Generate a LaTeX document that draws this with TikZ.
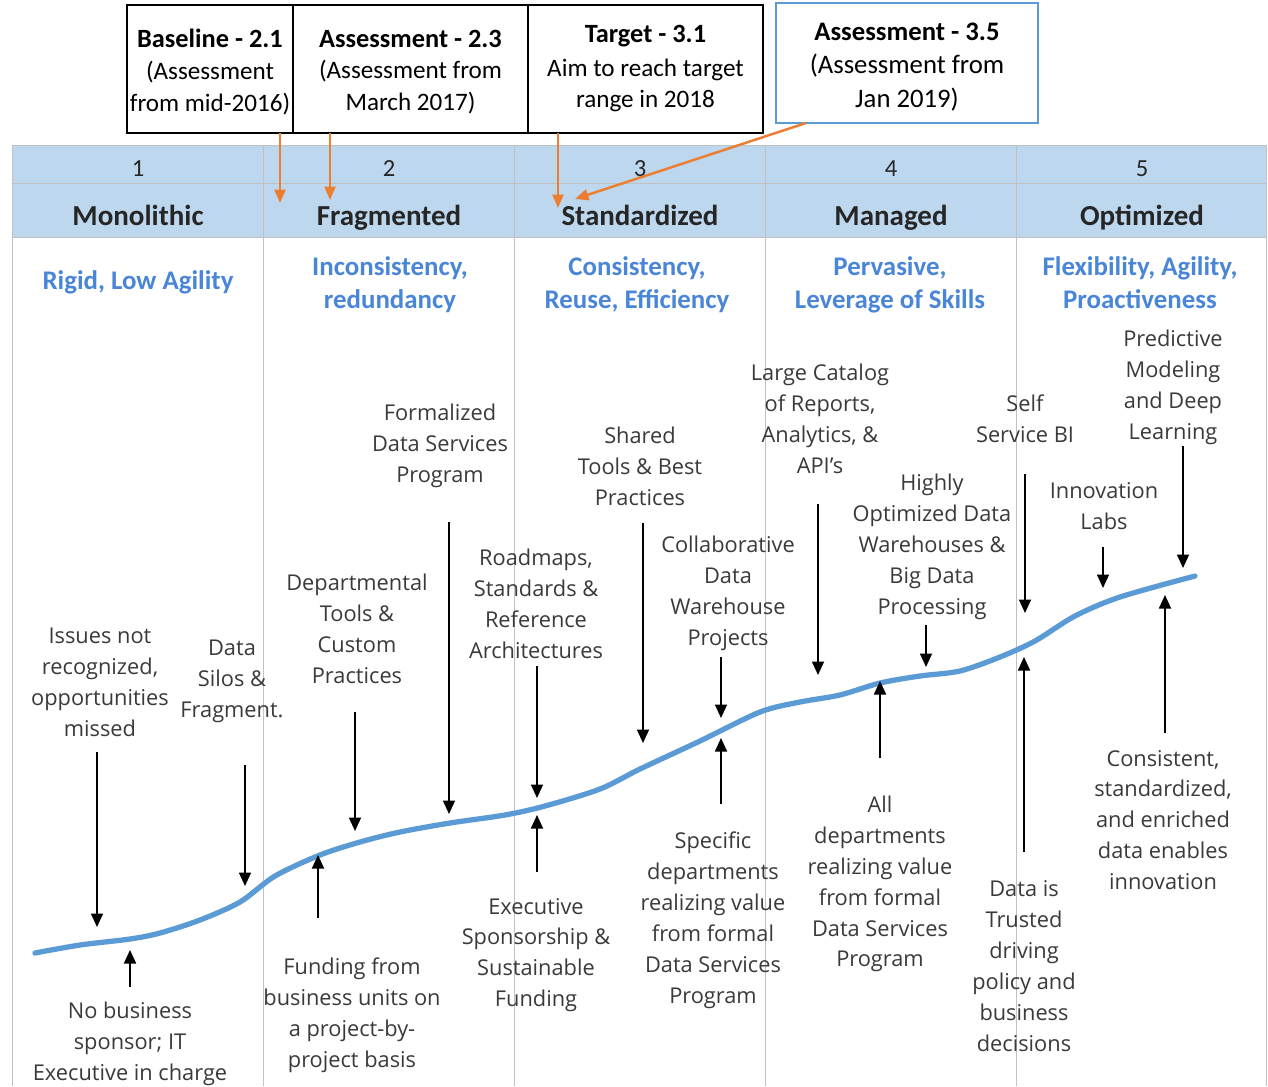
\documentclass[tikz,border=0pt]{standalone}
\usepackage{fontspec}
\setmainfont{Open Sans}
\newfontfamily\calfont{Carlito}
\usetikzlibrary{arrows.meta}
\definecolor{hdr}{HTML}{BDD7EE}
\definecolor{gridc}{HTML}{A6A6A6}
\definecolor{bluetxt}{HTML}{4A86D8}
\definecolor{curvec}{HTML}{5B9BD5}
\definecolor{orng}{HTML}{ED7D31}
\definecolor{lbltxt}{HTML}{3A3A3A}
\begin{document}
\begin{tikzpicture}[x=0.02cm,y=-0.02cm,
  lbl/.style={font=\fontsize{12.4}{17.6}\selectfont, text=lbltxt, align=center, inner sep=0pt},
  head/.style={font=\calfont\bfseries\fontsize{15.3}{18.7}\selectfont, text=bluetxt, align=center, inner sep=0pt},
  colname/.style={font=\calfont\bfseries\fontsize{16.5}{20}\selectfont, text=black!85, inner sep=0pt, anchor=base},
  colnum/.style={font=\calfont\fontsize{14}{18}\selectfont, text=black!85, inner sep=0pt, anchor=base},
  topbox/.style={draw=black, line width=1.4pt, fill=white, minimum height=128*0.02cm, inner sep=0pt},
  toptxt/.style={inner sep=0pt, align=center, font=\calfont\fontsize{14.3}{18}\selectfont},
  bluebox/.style={draw=curvec, line width=1.4pt, fill=white, minimum height=120*0.02cm, minimum width=262*0.02cm, inner sep=0pt},
  bluetxtnode/.style={inner sep=0pt, align=center, font=\calfont\fontsize{15.2}{19.2}\selectfont},
  blk/.style={draw=black, line width=1pt, -{Triangle[length=0.27cm,width=0.24cm]}},
  org/.style={draw=orng, line width=1.4pt, -{Triangle[length=0.27cm,width=0.22cm]}},
  gridl/.style={draw=gridc!70, line width=0.5pt}
]
\useasboundingbox (0,0) rectangle (1268,1086);
\fill[white] (0,0) rectangle (1268,1086);

% table header
\fill[hdr] (12,145) rectangle (1266,237);
\foreach \xx in {12,263,514,765,1016,1266} \draw[gridl] (\xx,145) -- (\xx,1086);
\foreach \yy in {145,183,237} \draw[gridl] (12,\yy) -- (1266,\yy);

\node[colnum] (n1) at (138,176) {1};
\node[colnum] (n2) at (389,176) {2};
\node[colnum] (n3) at (640,176) {3};
\node[colnum] (n4) at (891,176) {4};
\node[colnum] (n5) at (1142,176) {5};
\node[colname] (c1) at (138,225) {Monolithic};
\node[colname] (c2) at (389,225) {Fragmented};
\node[colname] (c3) at (640,225) {Standardized};
\node[colname] (c4) at (891,225) {Managed};
\node[colname] (c5) at (1142,225) {Optimized};

% top boxes
\node[topbox, minimum width=166*0.02cm] (b1) at (210,69) {};
\node[topbox, minimum width=235*0.02cm] (b2) at (410.5,69) {};
\node[topbox, minimum width=235*0.02cm] (b3) at (645.5,69) {};
\node[toptxt] (b1t) at (210,72) {\textbf{\fontsize{15}{18}\selectfont Baseline - 2.1}\\(Assessment\\from mid-2016)};
\node[toptxt] (b2t) at (410.5,72) {\textbf{\fontsize{15}{18}\selectfont Assessment - 2.3}\\(Assessment from\\March 2017)};
\node[toptxt] (b3t) at (645.5,69) {\textbf{\fontsize{15}{18}\selectfont Target - 3.1}\\[1pt]Aim to reach target\\range in 2018};
\node[bluebox] (b4) at (907,63) {};
\node[bluetxtnode] (b4t) at (907,67) {\textbf{Assessment - 3.5}\\(Assessment from\\Jan 2019)};

% orange arrows
\coordinate (o1s) at (280,133); \coordinate (o1e) at (280,203);
\coordinate (o2s) at (330,133); \coordinate (o2e) at (330,200);
\coordinate (o3s) at (558,133); \coordinate (o3e) at (558,208);
\coordinate (o4s) at (806,123); \coordinate (o4e) at (575,199);
\draw[org] (o1s) -- (o1e);
\draw[org] (o2s) -- (o2e);
\draw[org] (o3s) -- (o3e);
\draw[org] (o4s) -- (o4e);

% blue headings
\node[head] (h1) at (138,282) {Rigid, Low Agility};
\node[head] (h2) at (390,285) {Inconsistency,\\redundancy};
\node[head] (h3) at (637,285) {Consistency,\\Reuse, Efficiency};
\node[head] (h4) at (890,285) {Pervasive,\\Leverage of Skills};
\node[head] (h5) at (1140,283) {Flexibility, Agility,\\Proactiveness};

% curve
\draw[curvec, line width=3pt, line cap=round] plot[smooth, tension=0.5] coordinates {
 (35,953) (80,945) (130,939) (160,933) (200,920) (240,902) (275,876) (320,855) (360,842) (400,832) (450,823) (505,815) (545,806) (600,789) (640,769) (700,741) (760,712) (800,702) (840,695) (880,683) (920,676) (960,671) (1000,657) (1035,641) (1075,616) (1120,597) (1195,576)};

% labels
\node[lbl] (t1) at (100,682) {Issues not\\recognized,\\opportunities\\missed};
\node[lbl] (t2) at (232,681) {Data\\Silos \&\\Fragment.};
\node[lbl] (t3) at (130,1044) {No business\\sponsor; IT\\Executive in charge};
\node[lbl] (t4) at (357,629) {Departmental\\Tools \&\\Custom\\Practices};
\node[lbl] (t5) at (440,446) {Formalized\\Data Services\\Program};
\node[lbl] (t6) at (352,1015) {Funding from\\business units on\\a project-by-\\project basis};
\node[lbl] (t7) at (536,604) {Roadmaps,\\Standards \&\\Reference\\Architectures};
\node[lbl] (t8) at (536,955) {Executive\\Sponsorship \&\\Sustainable\\Funding};
\node[lbl] (t9) at (640,466) {Shared\\Tools \& Best\\Practices};
\node[lbl] (t10) at (728,593) {Collaborative\\Data\\Warehouse\\Projects};
\node[lbl] (t11) at (713,920) {Specific\\departments\\realizing value\\from formal\\Data Services\\Program};
\node[lbl] (t12) at (820,419) {Large Catalog\\of Reports,\\Analytics, \&\\API's};
\node[lbl] (t13) at (932,547) {Highly\\Optimized Data\\Warehouses \&\\Big Data\\Processing};
\node[lbl] (t14) at (880,884) {All\\departments\\realizing value\\from formal\\Data Services\\Program};
\node[lbl] (t15) at (1025,419) {Self\\Service BI};
\node[lbl] (t16) at (1104,506) {Innovation\\Labs};
\node[lbl] (t17) at (1173,387) {Predictive\\Modeling\\and Deep\\Learning};
\node[lbl] (t18) at (1024,966) {Data is\\Trusted\\driving\\policy and\\business\\decisions};
\node[lbl] (t19) at (1163,820) {Consistent,\\standardized,\\and enriched\\data enables\\innovation};

% black arrows
\foreach \nm/\xa/\ya/\xb/\yb in {a1/97/752/97/927, a2/130/987/130/950, a3/245/765/245/886, a4/318/918/318/855, a5/355/712/355/831, a6/449/522/449/814, a7/537/666/537/798, a8/537/872/537/815, a9/643/523/643/743, a10/721/657/721/718, a11/721/804/721/738, a12/818/504/818/675, a13/880/758/880/681, a14/926/625/926/667, a15/1025/474/1025/613, a16/1024/852/1024/657, a17/1103/547/1103/588, a18/1183/446/1183/568, a19/1165/733/1165/595} {
  \coordinate (\nm s) at (\xa,\ya);
  \coordinate (\nm e) at (\xb,\yb);
  \draw[blk] (\nm s) -- (\nm e);
}
\end{tikzpicture}
\end{document}
